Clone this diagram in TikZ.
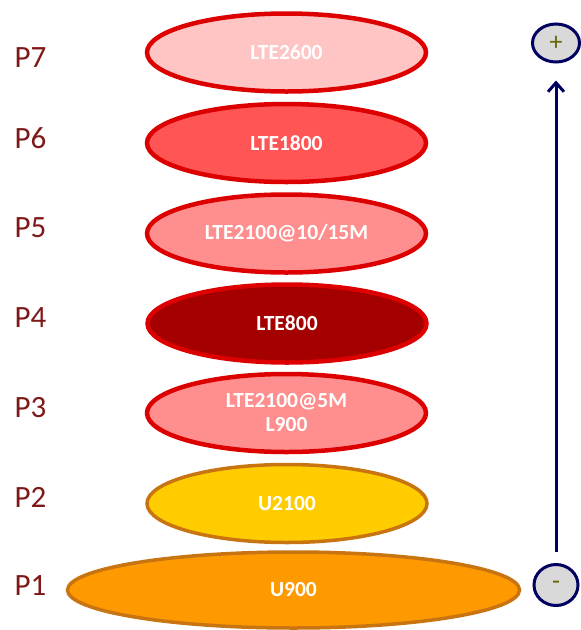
\documentclass[tikz,border=0pt]{standalone}
\usepackage{fontspec}
\setmainfont{Carlito}
\usetikzlibrary{shapes.geometric,arrows.meta}

\definecolor{bandred}{HTML}{DD0000}
\definecolor{bandorange}{HTML}{C87410}
\definecolor{lvlred}{HTML}{7F1818}
\definecolor{navy}{HTML}{000060}
\definecolor{signgray}{HTML}{D9D9D9}
\definecolor{signolive}{HTML}{666600}
\definecolor{fillseven}{HTML}{FFC4C4}
\definecolor{fillsix}{HTML}{FF5555}
\definecolor{fillfive}{HTML}{FF8F8F}
\definecolor{fillfour}{HTML}{A50000}
\definecolor{fillthree}{HTML}{FF8F8F}
\definecolor{filltwo}{HTML}{FFCC00}
\definecolor{fillone}{HTML}{FF9900}

\begin{document}
\begin{tikzpicture}[x=1pt,y=-1pt,
  band/.style={ellipse, inner sep=0pt, minimum width=279pt, minimum height=78pt,
    line width=4.5pt, draw=bandred, text=white, align=center,
    font=\fontsize{21.5}{24}\selectfont\bfseries},
  warmband/.style={band, draw=bandorange, line width=3.5pt},
  lvl/.style={anchor=base, inner sep=0pt, text=lvlred,
    font=\fontsize{31}{36}\selectfont},
  sign/.style={ellipse, inner sep=0pt, draw=navy, line width=3pt, fill=signgray,
    text=signolive, font=\fontsize{26}{30}\selectfont},
  rise/.style={draw=navy, line width=3pt,
    -{Straight Barb[length=9pt,width=16pt,line width=3pt]}}]
\useasboundingbox (0,0) rectangle (581,630);

% priority bands, top to bottom
\node[band, fill=fillseven] (e7) at (286.5,52.5) {LTE2600};
\node[band, fill=fillsix] (e6) at (286.5,143) {LTE1800};
\node[band, fill=fillfive] (e5) at (286.5,233.5) {LTE2100@10/15M};
\node[band, fill=fillfour] (e4) at (287,323.5) {LTE800};
\node[band, fill=fillthree] (e3) at (286.5,413) {LTE2100@5M\\L900};
\node[warmband, fill=filltwo, minimum width=280pt] (e2) at (287,503.5) {U2100};
\node[warmband, fill=fillone, minimum width=452pt, minimum height=76pt] (e1) at (293.5,590) {U900};

% level labels
\node[lvl] (p7) at (30.5,67) {P7};
\node[lvl] (p6) at (30.5,148) {P6};
\node[lvl] (p5) at (30.5,237) {P5};
\node[lvl] (p4) at (30.5,327) {P4};
\node[lvl] (p3) at (30.5,417) {P3};
\node[lvl] (p2) at (30.5,507) {P2};
\node[lvl] (p1) at (30.5,595) {P1};

% priority scale
\node[sign, minimum width=47pt, minimum height=38pt] (plus) at (556,43) {+};
\node[sign, minimum width=44pt, minimum height=41pt] (minus) at (556,585) {-};
\draw[rise, shorten <=11pt, shorten >=17pt] (minus) -- (plus);
\end{tikzpicture}
\end{document}
